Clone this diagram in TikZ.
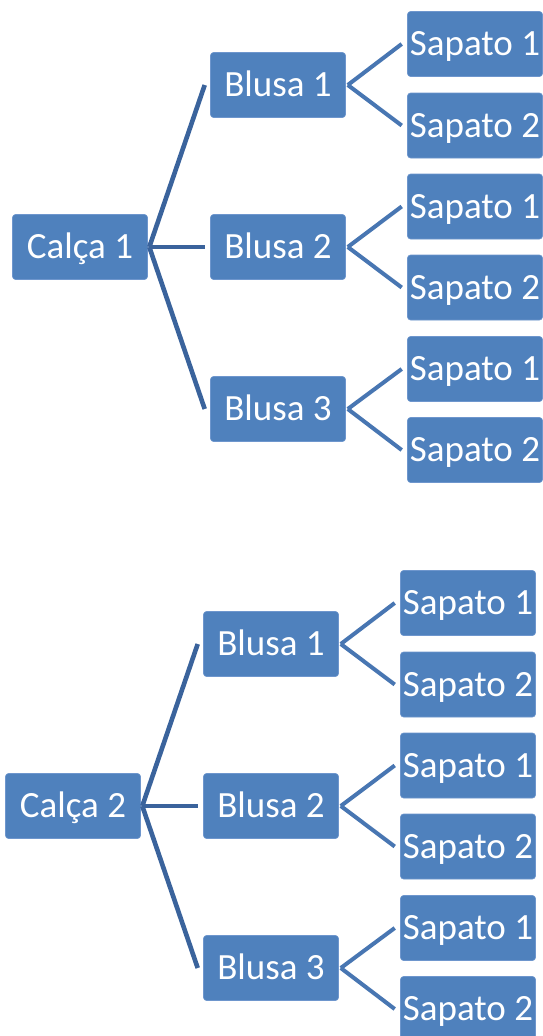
\documentclass[tikz,border=0pt]{standalone}
\usepackage{fontspec}
\setmainfont{Carlito}
\definecolor{boxblue}{RGB}{79,129,189}
\definecolor{boxedge}{RGB}{110,150,205}
\definecolor{lineA}{RGB}{58,99,156}
\definecolor{lineB}{RGB}{72,118,178}
\begin{document}
\begin{tikzpicture}[x=1pt,y=-1pt,
  box/.style={fill=boxblue,draw=boxedge,line width=0.6pt,rounded corners=3pt,
    minimum width=135pt,minimum height=65pt,inner sep=0pt,
    text=white,font=\fontsize{37}{44}\selectfont,text height=23.8pt,text depth=0pt},
  conA/.style={draw=lineA,line width=4.6pt},
  conB/.style={draw=lineB,line width=4pt}]
\useasboundingbox (0,0) rectangle (542,1036);
\fill[white] (0,0) rectangle (542,1036);
% tree 1
\node[box] (c1) at (80,247) {Calça 1};
\node[box] (b11) at (278,85) {Blusa 1};
\node[box] (b12) at (278,247) {Blusa 2};
\node[box] (b13) at (278,409) {Blusa 3};
\node[box] (s111) at (475,44) {Sapato 1};
\node[box] (s112) at (475,125.5) {Sapato 2};
\node[box] (s121) at (475,206.5) {Sapato 1};
\node[box] (s122) at (475,287.5) {Sapato 2};
\node[box] (s131) at (475,369) {Sapato 1};
\node[box] (s132) at (475,450) {Sapato 2};
% tree 2
\node[box] (c2) at (73,806) {Calça 2};
\node[box] (b21) at (271,644) {Blusa 1};
\node[box] (b22) at (271,806) {Blusa 2};
\node[box] (b23) at (271,968) {Blusa 3};
\node[box] (s211) at (468,603) {Sapato 1};
\node[box] (s212) at (468,684.5) {Sapato 2};
\node[box] (s221) at (468,765.5) {Sapato 1};
\node[box] (s222) at (468,846.5) {Sapato 2};
\node[box] (s231) at (468,928) {Sapato 1};
\node[box] (s232) at (468,1009) {Sapato 2};
% junction and end coordinates
\foreach \t in {1,2}{
  \coordinate (j\t) at ([xshift=1.5pt]c\t.east);
  \foreach \b in {1,2,3}{
    \coordinate (in\t\b) at ([xshift=-5.5pt]b\t\b.west);
    \coordinate (out\t\b) at ([xshift=2pt]b\t\b.east);
    \foreach \s in {1,2}{
      \coordinate (e\t\b\s) at ([xshift=-5.5pt]s\t\b\s.west);
    }
  }
}
\foreach \t in {1,2}{
  \foreach \b in {1,2,3}{
    \draw[conA] (j\t) -- (in\t\b);
    \foreach \s in {1,2}{
      \draw[conB] (out\t\b) -- (e\t\b\s);
    }
  }
}
\end{tikzpicture}
\end{document}
